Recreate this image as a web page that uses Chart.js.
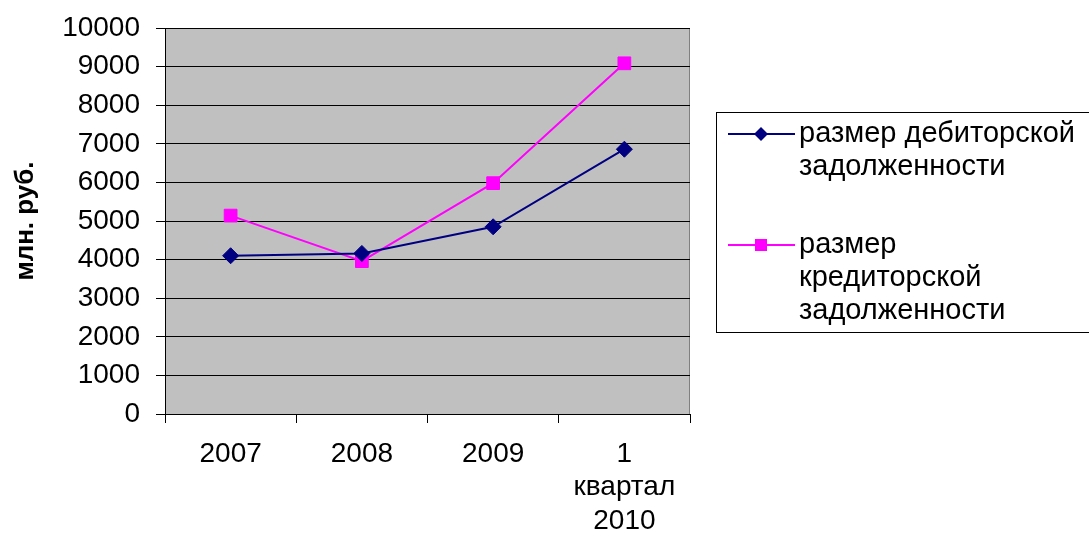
<!DOCTYPE html>
<html>
<head>
<meta charset="utf-8">
<script src="https://cdn.jsdelivr.net/npm/chart.js@4/dist/chart.umd.min.js"></script>
<style>
  html, body { margin: 0; padding: 0; background: #fff; }
  #wrap { width: 1089px; height: 533px; position: relative; }
</style>
</head>
<body>
<div id="wrap"><canvas id="chart" width="1089" height="533"></canvas></div>
<script>
const categories = ["2007", "2008", "2009", ["1", "квартал", "2010"]];
const debitValues = [4100, 4160, 4850, 6860];
const creditValues = [5140, 3960, 5980, 9085];
const seriesNames = [
  ["размер дебиторской", "задолженности"],
  ["размер", "кредиторской", "задолженности"],
];
const yAxisTitle = "млн. руб.";

const FONT = "'Liberation Sans', Arial, sans-serif";
const NAVY = "#000080";
const PINK = "#ff00ff";

// grey plot background + frame
const plotBackground = {
  id: "plotBackground",
  beforeDraw(chart) {
    const { ctx, chartArea: a } = chart;
    ctx.save();
    ctx.fillStyle = "#c0c0c0";
    ctx.fillRect(a.left, a.top, a.right - a.left, a.bottom - a.top);
    ctx.strokeStyle = "#808080";
    ctx.lineWidth = 1;
    ctx.strokeRect(a.left + 0.5, a.top + 0.5, a.right - a.left - 1, a.bottom - a.top);
    ctx.restore();
  },
};

// boxed legend on the right, with wrapped labels
const boxLegend = {
  id: "boxLegend",
  afterDraw(chart) {
    const { ctx } = chart;
    ctx.save();
    ctx.strokeStyle = "#000";
    ctx.lineWidth = 1;
    ctx.strokeRect(716.5, 112.5, 400, 220);
    ctx.font = "29px " + FONT;
    ctx.textBaseline = "middle";
    const starts = [134, 245];
    chart.data.datasets.forEach((ds, i) => {
      const y = starts[i];
      ctx.strokeStyle = ds.borderColor;
      ctx.lineWidth = 2;
      ctx.beginPath();
      ctx.moveTo(728, y);
      ctx.lineTo(795, y);
      ctx.stroke();
      ctx.fillStyle = ds.borderColor;
      if (ds.pointStyle === "rectRot") {
        ctx.beginPath();
        ctx.moveTo(761, y - 7);
        ctx.lineTo(768, y);
        ctx.lineTo(761, y + 7);
        ctx.lineTo(754, y);
        ctx.closePath();
        ctx.fill();
      } else {
        ctx.fillRect(755, y - 6, 12, 12);
      }
      ctx.fillStyle = "#000";
      seriesNames[i].forEach((line, k) => {
        ctx.fillText(line, 799, y + k * 33);
      });
    });
    ctx.restore();
  },
};

new Chart(document.getElementById("chart"), {
  type: "line",
  data: {
    labels: categories,
    datasets: [
      {
        label: seriesNames[0].join(" "),
        data: debitValues,
        borderColor: NAVY,
        backgroundColor: NAVY,
        borderWidth: 2,
        pointStyle: "rectRot",
        pointRadius: 8,
        pointBorderWidth: 1,
        tension: 0,
      },
      {
        label: seriesNames[1].join(" "),
        data: creditValues,
        borderColor: PINK,
        backgroundColor: PINK,
        borderWidth: 2,
        pointStyle: "rect",
        pointRadius: 9,
        pointBorderWidth: 1,
        tension: 0,
      },
    ],
  },
  options: {
    responsive: false,
    animation: false,
    layout: { padding: { top: 28, right: 399, left: 0, bottom: 0 } },
    plugins: {
      legend: { display: false },
      tooltip: { enabled: false },
    },
    scales: {
      x: {
        offset: true,
        border: { color: "#000", width: 1 },
        grid: {
          offset: true,
          drawOnChartArea: false,
          drawTicks: true,
          tickLength: 9,
          color: "#000",
        },
        ticks: {
          color: "#000",
          font: { family: FONT, size: 28, lineHeight: 1.2 },
          padding: 14,
          maxRotation: 0,
          autoSkip: false,
        },
        afterFit(scale) {
          scale.height = 119;
          scale.paddingLeft = 0;
          scale.paddingRight = 0;
        },
      },
      y: {
        min: 0,
        max: 10000,
        border: { color: "#000", width: 1 },
        grid: {
          color: "#000",
          lineWidth: 1,
          drawTicks: true,
          tickLength: 9,
        },
        ticks: {
          stepSize: 1000,
          color: "#000",
          font: { family: FONT, size: 28 },
          padding: 16,
          callback: (value) => String(value),
        },
        title: {
          display: true,
          text: yAxisTitle,
          color: "#000",
          font: { family: FONT, size: 26, weight: "bold" },
          padding: { top: 10, bottom: 0 },
        },
        afterFit(scale) {
          scale.width = 165;
          scale.paddingTop = 0;
          scale.paddingBottom = 0;
        },
      },
    },
  },
  plugins: [plotBackground, boxLegend],
});
</script>
</body>
</html>
